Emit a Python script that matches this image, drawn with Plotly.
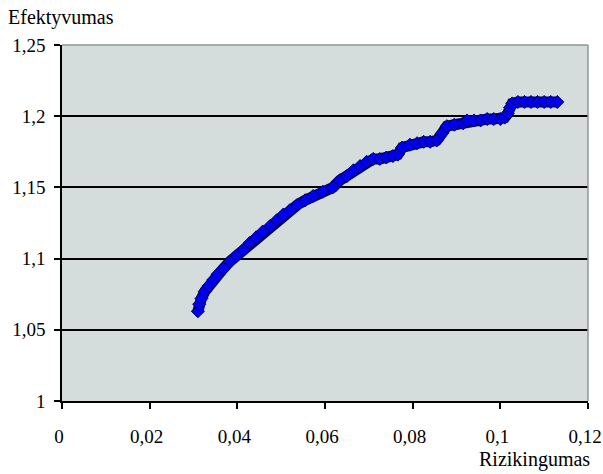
import plotly.graph_objects as go

# Risk (x) vs efficiency (y) frontier points
rizikingumas = [
    0.0310, 0.0313, 0.0318, 0.0326, 0.0335, 0.0345, 0.0355, 0.0368, 0.0383, 0.0398,
    0.0413, 0.0428, 0.0443, 0.0458, 0.0475, 0.0490, 0.0505, 0.0520, 0.0538, 0.0555,
    0.0573, 0.0595, 0.0618, 0.0634, 0.0650, 0.0665, 0.0680, 0.0695, 0.0710, 0.0725,
    0.0740, 0.0755, 0.0766, 0.0776, 0.0794, 0.0810, 0.0825, 0.0840, 0.0855, 0.0867,
    0.0878, 0.0895, 0.0915, 0.0924, 0.0940, 0.0955, 0.0970, 0.0985, 0.1000, 0.1010,
    0.1017, 0.1022, 0.1027, 0.1040, 0.1055, 0.1070, 0.1085, 0.1100, 0.1115, 0.1130,
]
efektyvumas = [
    1.063, 1.068, 1.072, 1.077, 1.081, 1.085, 1.089, 1.093, 1.098, 1.102,
    1.106, 1.111, 1.115, 1.119, 1.123, 1.127, 1.131, 1.134, 1.138, 1.141,
    1.144, 1.147, 1.150, 1.155, 1.158, 1.162, 1.165, 1.168, 1.170, 1.170,
    1.171, 1.172, 1.173, 1.178, 1.180, 1.181, 1.182, 1.182, 1.183, 1.188,
    1.193, 1.194, 1.195, 1.197, 1.197, 1.197, 1.198, 1.198, 1.198, 1.199,
    1.202, 1.206, 1.209, 1.210, 1.210, 1.210, 1.210, 1.210, 1.210, 1.210,
]

x_tickvals = [0, 0.02, 0.04, 0.06, 0.08, 0.1, 0.12]
x_ticktext = ["0", "0,02", "0,04", "0,06", "0,08", "0,1", "0,12"]
y_tickvals = [1, 1.05, 1.1, 1.15, 1.2, 1.25]
y_ticktext = ["1", "1,05", "1,1", "1,15", "1,2", "1,25"]

FONT = "Liberation Serif"

fig = go.Figure()
# dark outline underneath
fig.add_trace(go.Scatter(
    x=rizikingumas, y=efektyvumas, mode="lines",
    line=dict(color="#000060", width=11), hoverinfo="skip", showlegend=False,
))
fig.add_trace(go.Scatter(
    x=rizikingumas, y=efektyvumas, mode="lines+markers",
    line=dict(color="#0000f0", width=8),
    marker=dict(symbol="diamond", size=10, color="#0000f0",
                line=dict(color="#000070", width=1)),
    showlegend=False,
))

fig.update_layout(
    width=603, height=474,
    margin=dict(l=62, r=15, t=45, b=73, autoexpand=False),
    paper_bgcolor="white",
    plot_bgcolor="#d4dcdc",
    font=dict(family=FONT, size=18, color="black"),
    showlegend=False,
)
fig.update_xaxes(
    range=[0, 0.12], tickvals=x_tickvals, ticktext=x_ticktext,
    showgrid=False, zeroline=False, automargin=False,
    showline=True, linecolor="black", linewidth=1.5,
    ticks="outside", ticklen=6, tickcolor="black", tickwidth=1.5,
    ticklabelstandoff=11, ticklabeloverflow="allow", ticklabelshift=-3,
    tickfont=dict(family=FONT, size=19, color="black"),
)
fig.update_yaxes(
    range=[1, 1.25], tickvals=y_tickvals, ticktext=y_ticktext,
    showgrid=True, gridcolor="black", gridwidth=1.5, zeroline=False, automargin=False,
    showline=True, linecolor="black", linewidth=1.5,
    ticks="outside", ticklen=6, tickcolor="black", tickwidth=1.5,
    ticklabelstandoff=5,
    tickfont=dict(family=FONT, size=19, color="black"),
)
# gray top & right border
fig.add_shape(type="line", xref="paper", yref="paper", x0=0, x1=1, y0=1, y1=1,
              line=dict(color="#8a9a9a", width=1.5))
fig.add_shape(type="line", xref="paper", yref="paper", x0=1, x1=1, y0=0, y1=1,
              line=dict(color="#8a9a9a", width=1.5))

fig.add_annotation(text="Efektyvumas", xref="paper", yref="paper",
                   x=-56/526, y=1 + 28/356, xanchor="left", yanchor="middle",
                   showarrow=False, font=dict(family=FONT, size=20, color="black"))
fig.add_annotation(text="Rizikingumas", xref="paper", yref="paper",
                   x=1 + 4/526, y=-59/356, xanchor="right", yanchor="middle",
                   showarrow=False, font=dict(family=FONT, size=20, color="black"))

fig.write_html("out.html")
